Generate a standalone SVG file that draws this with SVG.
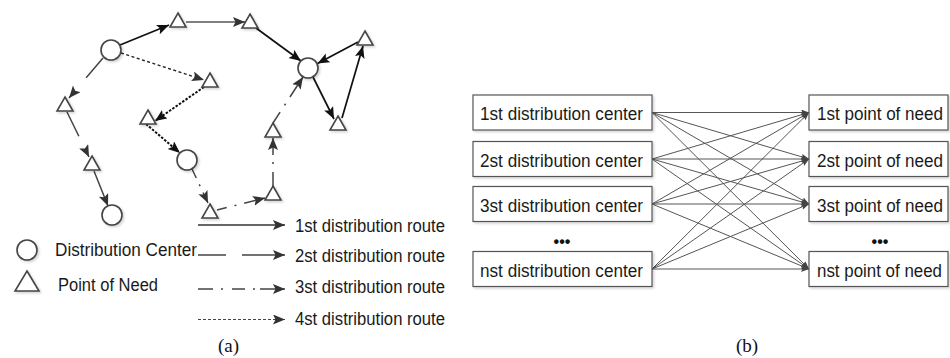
<svg xmlns="http://www.w3.org/2000/svg" xmlns:xlink="http://www.w3.org/1999/xlink" width="950" height="358" viewBox="0 0 950 358">
<style>
  .shape { fill: #fff; stroke: #444; stroke-width: 1.6; filter: url(#sh); }
  .box { fill: #fff; stroke: #555; stroke-width: 1.2; filter: url(#sh); }
  .lbl { font-family: "Liberation Sans", Arial, sans-serif; font-size: 17.5px; fill: #1a1a1a; }
  .cap { font-family: "Liberation Serif", "Times New Roman", serif; font-size: 19px; fill: #111; }
  .dots { font-family: "Liberation Sans", Arial, sans-serif; font-size: 16px; font-weight: bold; fill: #111; text-anchor: middle; }
  .r1 { fill: none; stroke: #111; stroke-width: 1.7; marker-end: url(#ab); }
  .r1g { fill: none; stroke: #555; stroke-width: 1.5; marker-end: url(#ag); }
  .r2 { fill: none; stroke: #444; stroke-width: 1.5; marker-end: url(#ag); }
  .r3 { fill: none; stroke: #444; stroke-width: 1.5; marker-end: url(#ag); }
  .r4 { fill: none; stroke: #111; stroke-width: 2; stroke-dasharray: 2.5 1.5; marker-end: url(#ab); }
  .r4t { fill: none; stroke: #222; stroke-width: 1.4; stroke-dasharray: 3 2.5; marker-end: url(#ag); }
  .lg { fill: none; stroke: #444; stroke-width: 1.5; marker-end: url(#ag); }
  .bl { fill: none; stroke: #555; stroke-width: 1; marker-end: url(#as); }
</style>
<defs>
  <filter id="sh" x="-20%" y="-20%" width="150%" height="150%">
    <feDropShadow dx="1.5" dy="1.5" stdDeviation="1.2" flood-color="#000" flood-opacity="0.18"/>
  </filter>
  <marker id="ab" markerUnits="userSpaceOnUse" markerWidth="13" markerHeight="11" refX="12" refY="5" orient="auto">
    <path d="M0,0 L12,5 L0,10 L2.5,5 z" fill="#111"/>
  </marker>
  <marker id="ag" markerUnits="userSpaceOnUse" markerWidth="13" markerHeight="11" refX="12" refY="5" orient="auto">
    <path d="M0,0 L12,5 L0,10 L2.5,5 z" fill="#333"/>
  </marker>
  <marker id="as" markerUnits="userSpaceOnUse" markerWidth="10" markerHeight="8" refX="8" refY="3" orient="auto">
    <path d="M0,0 L8,3 L0,6 L1.5,3 z" fill="#444"/>
  </marker>
  <path id="tri" d="M0,-8 L8,6 L-8,6 Z"/>
</defs>

<!-- (a) connectors -->
<g id="connectors-a">
  <!-- route 1 -->
  <path class="r1" d="M120,45 L169,25"/>
  <path class="r1g" d="M186,22 L245,22"/>
  <path class="r1" d="M256,28 L301,61"/>
  <path class="r1" d="M358,42 L317.5,63.5"/>
  <path class="r1" d="M313,77 L334,119"/>
  <path class="r1" d="M342,118 L363,46"/>
  <!-- route 2 -->
  <path class="r2" style="stroke-dasharray:26 17" d="M103,58 L69,98"/>
  <path class="r2" style="stroke-dasharray:27 14" d="M67,112 L89,157"/>
  <path class="r2" d="M94,171 L108,206"/>
  <!-- route 3 -->
  <path class="r3" style="stroke-dasharray:10 7 2 7 30" d="M192,169 L208,203"/>
  <path class="r3" style="stroke-dasharray:10 8 2 8 30" d="M217,210 L265,198"/>
  <path class="r3" style="stroke-dasharray:14 8 2 7 30" d="M273,186 L273,138"/>
  <path class="r3" style="stroke-dasharray:13 8 2 8 40" d="M273,123 L303,77"/>
  <!-- route 4 -->
  <path class="r4t" d="M121,53 L204,80"/>
  <path class="r4" d="M204,87 L155,121"/>
  <path class="r4" d="M146,124 L180,153"/>
</g>

<!-- (a) nodes -->
<g id="c1"><circle class="shape" cx="111" cy="50" r="10"/></g>
<g id="c2"><circle class="shape" cx="308" cy="68" r="10"/></g>
<g id="c3"><circle class="shape" cx="187" cy="160" r="10"/></g>
<g id="c4"><circle class="shape" cx="112" cy="215" r="10"/></g>
<g id="t1"><use class="shape" href="#tri" x="178" y="21"/></g>
<g id="t2"><use class="shape" href="#tri" x="250" y="22"/></g>
<g id="t3"><use class="shape" href="#tri" x="365" y="39"/></g>
<g id="t4"><use class="shape" href="#tri" x="338" y="124"/></g>
<g id="t5"><use class="shape" href="#tri" x="210" y="81"/></g>
<g id="t6"><use class="shape" href="#tri" x="148" y="118"/></g>
<g id="t7"><use class="shape" href="#tri" x="65" y="105"/></g>
<g id="t8"><use class="shape" href="#tri" x="92" y="164"/></g>
<g id="t9"><use class="shape" href="#tri" x="210" y="212"/></g>
<g id="t10"><use class="shape" href="#tri" x="273" y="194"/></g>
<g id="t11"><use class="shape" href="#tri" x="273" y="131"/></g>

<!-- (a) legend -->
<g id="legend">
  <circle class="shape" cx="27" cy="250" r="10"/>
  <text class="lbl" x="55" y="256" textLength="142" lengthAdjust="spacingAndGlyphs">Distribution Center</text>
  <polygon class="shape" points="27,271 39,291 15,291"/>
  <text class="lbl" x="58" y="291" textLength="100" lengthAdjust="spacingAndGlyphs">Point of Need</text>

  <path class="lg" style="stroke:#333" d="M198,225 L285,225"/>
  <path class="lg" style="stroke-dasharray:28 16 60" d="M198,255 L285,255"/>
  <path class="lg" style="stroke-dasharray:15 8 2 9 13 8 2 5 40" d="M198,289 L285,289"/>
  <path class="lg" style="stroke-width:1.2;stroke-dasharray:3 2" d="M198,319.5 L285,319.5"/>

  <text class="lbl" x="295" y="231.5" textLength="150" lengthAdjust="spacingAndGlyphs">1st distribution route</text>
  <text class="lbl" x="295" y="261.5" textLength="150" lengthAdjust="spacingAndGlyphs">2st distribution route</text>
  <text class="lbl" x="295" y="293" textLength="150" lengthAdjust="spacingAndGlyphs">3st distribution route</text>
  <text class="lbl" x="295" y="325" textLength="150" lengthAdjust="spacingAndGlyphs">4st distribution route</text>
  <text class="cap" x="228.5" y="352" text-anchor="middle">(a)</text>
</g>

<!-- (b) connectors -->
<g id="connectors-b">
  <path class="bl" d="M652,112.5 L809,112.5"/>
  <path class="bl" d="M652,112.5 L809,159"/>
  <path class="bl" d="M652,112.5 L809,204"/>
  <path class="bl" d="M652,112.5 L809,269"/>
  <path class="bl" d="M652,159 L809,112.5"/>
  <path class="bl" d="M652,159 L809,159"/>
  <path class="bl" d="M652,159 L809,204"/>
  <path class="bl" d="M652,159 L809,269"/>
  <path class="bl" d="M652,204 L809,112.5"/>
  <path class="bl" d="M652,204 L809,159"/>
  <path class="bl" d="M652,204 L809,204"/>
  <path class="bl" d="M652,204 L809,269"/>
  <path class="bl" d="M652,269 L809,112.5"/>
  <path class="bl" d="M652,269 L809,159"/>
  <path class="bl" d="M652,269 L809,204"/>
  <path class="bl" d="M652,269 L809,269"/>
</g>

<!-- (b) nodes -->
<g id="dc1"><rect class="box" x="473" y="95" width="179" height="35"/><text class="lbl" x="480" y="120" textLength="163" lengthAdjust="spacingAndGlyphs">1st distribution center</text></g>
<g id="dc2"><rect class="box" x="473" y="141.5" width="179" height="35"/><text class="lbl" x="480" y="166.5" textLength="163" lengthAdjust="spacingAndGlyphs">2st distribution center</text></g>
<g id="dc3"><rect class="box" x="473" y="186.5" width="179" height="35"/><text class="lbl" x="480" y="211.5" textLength="163" lengthAdjust="spacingAndGlyphs">3st distribution center</text></g>
<g id="dcn"><rect class="box" x="473" y="251.5" width="179" height="35"/><text class="lbl" x="480" y="276.5" textLength="163" lengthAdjust="spacingAndGlyphs">nst distribution center</text></g>
<text class="dots" x="562" y="247">•••</text>

<g id="pn1"><rect class="box" x="809" y="95" width="139" height="35"/><text class="lbl" x="817" y="120" textLength="126" lengthAdjust="spacingAndGlyphs">1st point of need</text></g>
<g id="pn2"><rect class="box" x="809" y="141.5" width="139" height="35"/><text class="lbl" x="817" y="166.5" textLength="126" lengthAdjust="spacingAndGlyphs">2st point of need</text></g>
<g id="pn3"><rect class="box" x="809" y="186.5" width="139" height="35"/><text class="lbl" x="817" y="211.5" textLength="126" lengthAdjust="spacingAndGlyphs">3st point of need</text></g>
<g id="pnn"><rect class="box" x="809" y="251.5" width="139" height="35"/><text class="lbl" x="817" y="276.5" textLength="125" lengthAdjust="spacingAndGlyphs">nst point of need</text></g>
<text class="dots" x="880" y="247">•••</text>

<text class="cap" x="747" y="352" text-anchor="middle">(b)</text>
</svg>
